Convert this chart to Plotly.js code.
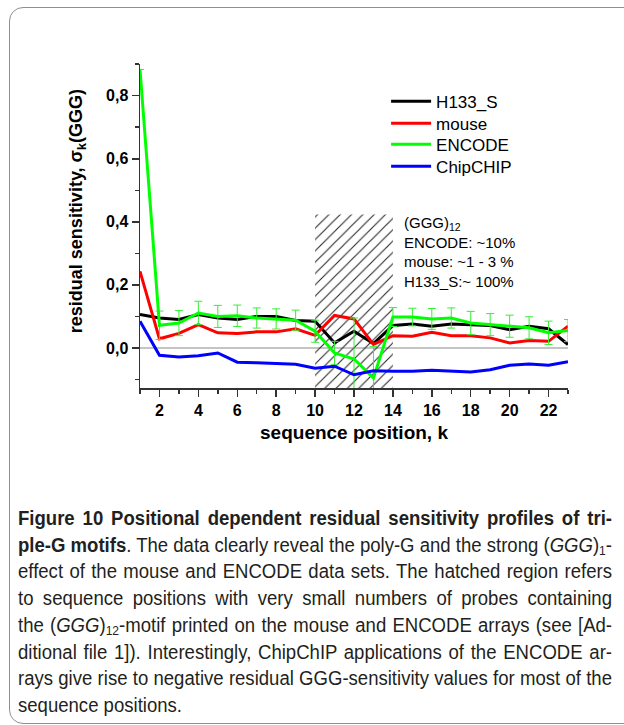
<!DOCTYPE html>
<html>
<head>
<meta charset="utf-8">
<script src="https://cdn.plot.ly/plotly-3.0.1.min.js"></script>
<style>
  html, body { margin: 0; padding: 0; background: #fff; width: 624px; height: 725px; overflow: hidden; }
  #frame { position: absolute; left: 9px; top: 7px; width: 720px; height: 717px; border: 1.5px solid #8f8f8f; border-radius: 14px; box-sizing: border-box; }
  #plot { position: absolute; left: 0; top: 0; width: 624px; height: 480px; }
  .cap { position: absolute; left: 18px; white-space: nowrap; font-family: "Liberation Sans", Arial, sans-serif; font-size: 20px; color: #231f20; transform-origin: 0 0; line-height: 1; }
  .cap sub { font-size: 65%; vertical-align: -3px; line-height: 0; }
</style>
</head>
<body>
<div id="frame"></div>
<div id="plot"></div>
<div id="caption"></div>
<script>
// ---- data ----
const positions = [1,2,3,4,5,6,7,8,9,10,11,12,13,14,15,16,17,18,19,20,21,22,23];
const h133s   = [0.106,0.095,0.090,0.106,0.095,0.090,0.100,0.100,0.087,0.085,0.016,0.053,0.014,0.071,0.076,0.069,0.076,0.074,0.071,0.058,0.069,0.061,0.011];
const mouse   = [0.243,0.029,0.046,0.074,0.048,0.046,0.051,0.051,0.061,0.040,0.103,0.092,0.011,0.039,0.037,0.050,0.039,0.039,0.032,0.016,0.024,0.021,0.069];
const encode  = [0.883,0.072,0.079,0.111,0.100,0.102,0.095,0.092,0.088,0.053,-0.016,-0.035,-0.095,0.098,0.098,0.092,0.095,0.079,0.074,0.069,0.064,0.048,0.055];
const encodeErr = [0,0.045,0.040,0.037,0.035,0.034,0.032,0.032,0.032,0.035,0.037,0.130,0.100,0.030,0.028,0.033,0.032,0.037,0.035,0.035,0.035,0.037,0.035];
const chipchip = [0.085,-0.023,-0.029,-0.025,-0.016,-0.045,-0.047,-0.050,-0.052,-0.064,-0.058,-0.085,-0.072,-0.074,-0.074,-0.071,-0.074,-0.076,-0.069,-0.055,-0.051,-0.055,-0.044];
const seriesNames = ["H133_S","mouse","ENCODE","ChipCHIP"];
const hatchX = [10, 14];
const hatchY = [-0.127, 0.423];
const yTickVals = [0, 0.2, 0.4, 0.6, 0.8];
const xTickVals = [2,4,6,8,10,12,14,16,18,20,22];
const noteLines = ["(GGG)<sub>12</sub>", "ENCODE: ~10%", "mouse: ~1 - 3 %", "H133_S:~ 100%"];
const yTitle = "residual sensitivity, σ<sub>k</sub>(GGG)";
const xTitle = "sequence position, k";

const captionLines = [
  "<b>Figure 10 Positional dependent residual sensitivity profiles of tri-</b>",
  "<b>ple-G motifs</b>. The data clearly reveal the poly-G and the strong (<i>GGG</i>)<sub>1</sub>-",
  "effect of the mouse and ENCODE data sets. The hatched region refers",
  "to sequence positions with very small numbers of probes containing",
  "the (<i>GGG</i>)<sub>12</sub>-motif printed on the mouse and ENCODE arrays (see [Ad-",
  "ditional file 1]). Interestingly, ChipChIP applications of the ENCODE ar-",
  "rays give rise to negative residual GGG-sensitivity values for most of the",
  "sequence positions."
];

const FONT = "Liberation Sans, Arial, sans-serif";
const colors = ["#000000", "#ff0000", "#00ff00", "#0000ff"];
const legendIds = ["legend", "legend2", "legend3", "legend4"];
const legendRowY = [0.884, 0.816, 0.751, 0.683];

const traces = [
  {
    x: [hatchX[0], hatchX[1], hatchX[1], hatchX[0], hatchX[0]],
    y: [hatchY[0], hatchY[0], hatchY[1], hatchY[1], hatchY[0]],
    type: "scatter", mode: "lines", fill: "toself",
    line: {width: 0, color: "rgba(0,0,0,0)"},
    fillcolor: "rgba(0,0,0,0)",
    fillpattern: {shape: "/", fgcolor: "#222222", bgcolor: "rgba(255,255,255,0)", size: 8, solidity: 0.13},
    showlegend: false, hoverinfo: "skip"
  },
  {x: positions, y: h133s, name: seriesNames[0], legend: legendIds[0], type: "scatter", mode: "lines", line: {color: colors[0], width: 3}},
  {x: positions, y: mouse, name: seriesNames[1], legend: legendIds[1], type: "scatter", mode: "lines", line: {color: colors[1], width: 3}},
  {x: positions, y: encode, name: seriesNames[2], legend: legendIds[2], type: "scatter", mode: "lines", line: {color: colors[2], width: 3},
   error_y: {type: "data", array: encodeErr, visible: true, color: "#33f033", thickness: 1, width: 4}},
  {x: positions, y: chipchip, name: seriesNames[3], legend: legendIds[3], type: "scatter", mode: "lines", line: {color: colors[3], width: 3}}
];

const legendBase = {x: 0.575, xanchor: "left", yanchor: "middle", bgcolor: "rgba(0,0,0,0)",
                    font: {size: 17, family: FONT, color: "#000"}, itemwidth: 40};

const layout = {
  width: 624, height: 480,
  margin: {l: 140, r: 56, t: 64, b: 92},
  paper_bgcolor: "rgba(0,0,0,0)", plot_bgcolor: "rgba(0,0,0,0)",
  separators: ", ",
  font: {family: FONT, color: "#000"},
  showlegend: true,
  xaxis: {
    range: [1, 23], tickmode: "array", tickvals: xTickVals,
    showgrid: false, zeroline: false, showline: true, linecolor: "#333", linewidth: 1.5,
    ticks: "outside", ticklen: 7, tickwidth: 1.5, tickcolor: "#333",
    tickfont: {size: 16, family: FONT, weight: "bold"},
    minor: {dtick: 1, ticks: "outside", ticklen: 4, tickwidth: 1.5, tickcolor: "#333", showgrid: false},
    title: {text: xTitle, font: {size: 19, family: FONT, weight: "bold"}, standoff: 8}
  },
  yaxis: {
    range: [-0.127, 0.9005], tickmode: "array", tickvals: yTickVals, tickformat: ".1f",
    showgrid: false, zeroline: true, zerolinecolor: "#c4c4c4", zerolinewidth: 1.5,
    showline: true, linecolor: "#333", linewidth: 1.5,
    ticks: "outside", ticklen: 7, tickwidth: 1.5, tickcolor: "#333",
    tickfont: {size: 16, family: FONT, weight: "bold"},
    minor: {dtick: 0.1, tick0: 0, ticks: "outside", ticklen: 4, tickwidth: 1.5, tickcolor: "#333", showgrid: false}
  },
  annotations: [
    {
      xref: "x", yref: "y", x: 14.45, y: 0.43, xanchor: "left", yanchor: "top", align: "left",
      showarrow: false, text: noteLines.join("<br>"),
      font: {size: 15, family: FONT, color: "#000"}
    },
    {
      xref: "paper", yref: "paper", x: -0.147, y: 0.546, xanchor: "center", yanchor: "middle",
      textangle: -90, showarrow: false, text: yTitle,
      font: {size: 18, family: FONT, weight: "bold", color: "#000"}
    }
  ]
};
legendIds.forEach((id, i) => { layout[id] = Object.assign({}, legendBase, {y: legendRowY[i]}); });

Plotly.newPlot("plot", traces, layout, {displayModeBar: false, staticPlot: true});

// ---- caption (justified lines) ----
const cap = document.getElementById("caption");
const left = 18, right = 612, target = right - left;
const top0 = 508, lineStep = 26.7;
const els = captionLines.map((html, i) => {
  const d = document.createElement("div");
  d.className = "cap";
  d.innerHTML = html;
  d.style.top = (top0 + i * lineStep) + "px";
  cap.appendChild(d);
  return d;
});
const widths = els.map(e => e.getBoundingClientRect().width);
let s = 1;
for (let i = 0; i < els.length - 1; i++) s = Math.min(s, target / widths[i]);
els.forEach((e, i) => {
  e.style.transform = "scaleX(" + s + ")";
  if (i < els.length - 1) {
    const spaces = (e.textContent.match(/ /g) || []).length;
    const extra = target / s - widths[i];
    if (spaces > 0) e.style.wordSpacing = (extra / spaces) + "px";
  }
});
</script>
</body>
</html>
